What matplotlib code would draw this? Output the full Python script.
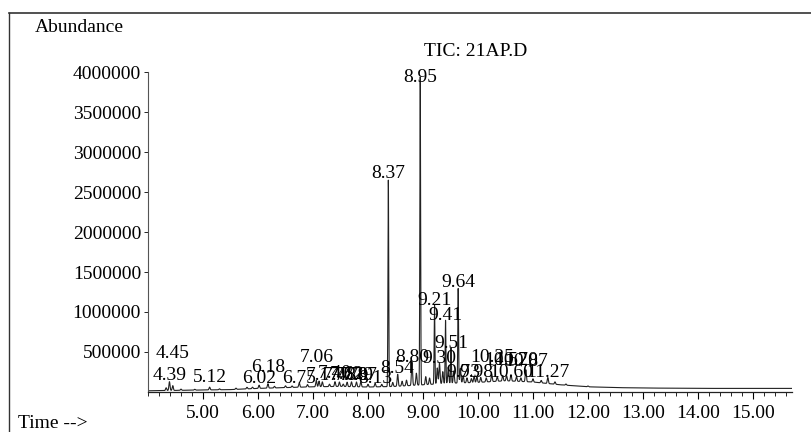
import numpy as np
import matplotlib
matplotlib.use("Agg")
import matplotlib.pyplot as plt
from matplotlib.ticker import MultipleLocator, FixedLocator
from matplotlib.lines import Line2D

plt.rcParams['font.family'] = ['Liberation Serif', 'DejaVu Serif']

# ---- data ----
title = "TIC: 21AP.D"
ylabel = "Abundance"
xlabel = "Time -->"

# baseline of the total ion chromatogram (time, abundance)
base_t = [4.00, 4.30, 5.00, 5.50, 6.00, 6.50, 7.00, 7.50, 8.00, 8.50, 9.00,
          9.50, 10.00, 10.50, 11.00, 11.50, 12.00, 12.50, 13.00, 14.00, 15.00, 15.71]
base_v = [15000, 18000, 25000, 30000, 45000, 55000, 65000, 70000, 62000, 70000, 90000,
          110000, 120000, 140000, 125000, 90000, 65000, 55000, 50000, 45000, 45000, 45000]

# peaks (retention time, height above baseline)
peak_t = [4.33, 4.39, 4.45, 4.60, 4.85, 5.12, 5.30, 5.60, 5.80, 5.90, 6.02, 6.18, 6.30,
          6.50, 6.62, 6.75, 6.90, 7.06, 7.11, 7.17, 7.30, 7.40, 7.48, 7.55, 7.62, 7.70,
          7.79, 7.87, 8.00, 8.13, 8.25, 8.37, 8.45, 8.54, 8.62, 8.70, 8.80, 8.88, 8.95,
          9.05, 9.12, 9.21, 9.26, 9.30, 9.36, 9.41, 9.46, 9.51, 9.56, 9.64, 9.68, 9.73,
          9.80, 9.88, 9.93, 9.98, 10.05, 10.15, 10.25, 10.35, 10.45, 10.52, 10.60, 10.70,
          10.78, 10.87, 11.00, 11.15, 11.27, 11.40, 11.60, 12.00]
peak_h = [35000, 110000, 60000, 15000, 10000, 35000, 12000, 15000, 20000, 18000, 40000,
          55000, 20000, 22000, 18000, 55000, 30000, 80000, 70000, 60000, 30000, 60000,
          55000, 30000, 55000, 60000, 60000, 65000, 35000, 45000, 30000, 2580000, 50000,
          150000, 60000, 70000, 290000, 150000, 3850000, 100000, 80000, 990000, 200000,
          260000, 150000, 790000, 200000, 440000, 150000, 1180000, 180000, 90000, 60000,
          50000, 80000, 70000, 60000, 50000, 90000, 60000, 70000, 65000, 80000, 60000,
          45000, 150000, 40000, 30000, 75000, 30000, 15000, 10000]

# peak labels: retention time and height of the label baseline
label_t = [4.39, 4.45, 5.12, 6.02, 6.18, 6.75, 7.06, 7.17, 7.40, 7.48, 7.62, 7.70,
           7.79, 7.87, 8.13, 8.37, 8.54, 8.80, 8.95, 9.21, 9.30, 9.41, 9.51, 9.64,
           9.73, 9.98, 10.25, 10.52, 10.60, 10.70, 10.87, 11.27]
label_y = [150000, 425000, 125000, 112000, 250000, 112000, 375000, 150000, 175000,
           150000, 165000, 150000, 150000, 150000, 110000, 2680000, 240000, 375000,
           3875000, 1090000, 360000, 900000, 550000, 1310000, 190000, 190000, 375000,
           340000, 190000, 340000, 320000, 190000]

yticks = [500000, 1000000, 1500000, 2000000, 2500000, 3000000, 3500000, 4000000]
xticks = [5, 6, 7, 8, 9, 10, 11, 12, 13, 14, 15]

# ---- build trace from the peak table ----
t = np.arange(4.0, 15.71, 0.002)
trace = np.interp(t, base_t, base_v)
for p, h in zip(peak_t, peak_h):
    w = 0.007 if h > 300000 else 0.010
    trace = trace + h * np.exp(-0.5 * ((t - p) / w) ** 2)

W, H = 811, 432
fig = plt.figure(figsize=(W / 100, H / 100), dpi=100)
ax = fig.add_axes([148 / W, 1 - 392 / H, (792 - 148) / W, (392 - 72) / H])

ax.plot(t, trace, color='#222222', lw=0.8)
ax.set_xlim(4.0, 15.71)
ax.set_ylim(0, 4000000)

for s in ['top', 'right']:
    ax.spines[s].set_visible(False)
ax.spines['left'].set_color('#555555')
ax.spines['left'].set_linewidth(0.8)
ax.spines['bottom'].set_color('#222222')
ax.spines['bottom'].set_linewidth(0.9)

ax.xaxis.set_major_locator(FixedLocator(xticks))
ax.xaxis.set_minor_locator(MultipleLocator(0.2))
ax.set_xticklabels([f"{v:.2f}" for v in xticks])
ax.yaxis.set_major_locator(FixedLocator(yticks))
ax.set_yticklabels([str(v) for v in yticks])
ax.tick_params(axis='x', which='major', length=5, width=0.8, pad=4, labelsize=14, direction='out')
ax.tick_params(axis='x', which='minor', length=3, width=0.6, direction='out')
ax.tick_params(axis='y', which='major', length=3, width=0.6, pad=2, labelsize=14, direction='out')

for lt, ly in zip(label_t, label_y):
    ax.text(lt, ly, f"{lt:.2f}", ha='center', va='baseline', fontsize=14, color='black')

fig.text(476 / W, 1 - 51 / H, title, ha='center', va='center', fontsize=14)
fig.text(35 / W, 1 - 28 / H, ylabel, ha='left', va='center', fontsize=14)
fig.text(18 / W, 1 - 423 / H, xlabel, ha='left', va='center', fontsize=14)

# outer frame
fig.add_artist(Line2D([9 / W, 1.0], [1 - 13 / H, 1 - 13 / H], transform=fig.transFigure,
                      color='#333333', lw=1.2))
fig.add_artist(Line2D([9 / W, 9 / W], [0, 1 - 13 / H], transform=fig.transFigure,
                      color='#333333', lw=1.0))

fig.savefig("out.png", dpi=100)
